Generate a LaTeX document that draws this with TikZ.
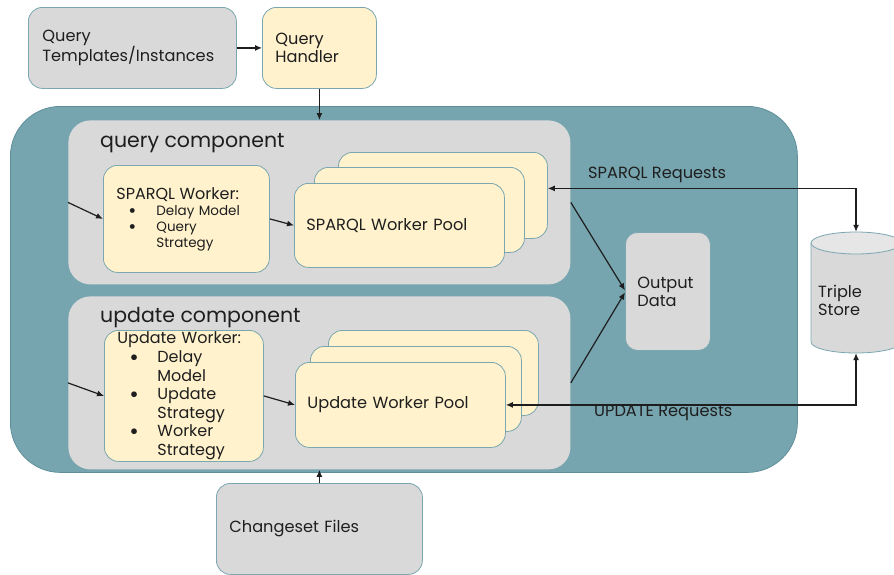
\documentclass[tikz,border=0pt]{standalone}
\usepackage{fontspec}
\setmainfont{Poppins}
\usetikzlibrary{arrows.meta}
\setlength{\parindent}{0pt}
\definecolor{tealbg}{HTML}{76A5AF}
\definecolor{tealline}{HTML}{5F8F9A}
\definecolor{boxline}{HTML}{7BA7B1}
\definecolor{boxgray}{HTML}{D9D9D9}
\definecolor{boxyel}{HTML}{FFF2CC}
\definecolor{cyltop}{HTML}{E6E6E6}
\definecolor{txtc}{HTML}{1E1E1E}
\newcommand{\wbul}{\hspace*{12pt}\makebox[28pt][l]{\raisebox{-0.3ex}{\scalebox{1.45}{\textbullet}}}}
\newcommand{\wcon}{\hspace*{40pt}}
\tikzset{
  box/.style={draw=boxline, line width=0.8pt, rounded corners=14pt, anchor=north west, inner ysep=0pt, text=txtc},
  graybox/.style={box, fill=boxgray},
  yelbox/.style={box, fill=boxyel},
  comp/.style={graybox, rounded corners=22pt, draw=none},
  arr/.style={-{Latex[length=7pt,width=6pt]}, line width=1.2pt, draw=txtc},
  dblarr/.style={{Latex[length=7pt,width=6pt]}-{Latex[length=7pt,width=6pt]}, line width=1.2pt, draw=txtc},
  lbl/.style={anchor=west, inner sep=0pt, text=txtc},
  title/.style={lbl, font=\fontsize{20.5}{24}\selectfont},
}
\begin{document}
\begin{tikzpicture}[x=1pt, y=-1pt, font=\fontsize{16.2}{18}\selectfont]
    \useasboundingbox (0,0) rectangle (894,574);
    \clip (0,0) rectangle (894,574);
    % top row
    \node[graybox, minimum width=205pt, minimum height=81pt, text width=180pt, inner xsep=14pt, align=left] (qt) at (28,7) {Query\\Templates/Instances};
    \node[yelbox, minimum width=114pt, minimum height=81pt, text width=88pt, inner xsep=13pt, align=left] (qh) at (262,7) {Query\\Handler};
    % main area
    \node[box, fill=tealbg, draw=tealline, rounded corners=50pt, minimum width=787pt, minimum height=366pt] (main) at (10,106) {};
    \node[comp, minimum width=502pt, minimum height=164pt] (qcomp) at (68,120) {};
    \node[title] (qtitle) at (100,143) {query component};
    \node[comp, minimum width=502pt, minimum height=173pt] (ucomp) at (68,296) {};
    \node[title] (utitle) at (100,318) {update component};
    % workers
    \node[yelbox, minimum width=166pt, minimum height=107pt, text width=140pt, inner xsep=13pt, align=left, font=\fontsize{13.5}{16}\selectfont] (sw) at (103,165)
        {{\fontsize{16}{17}\selectfont SPARQL Worker:}\\ \wbul Delay Model\\ \wbul Query\\ \wcon Strategy};
    \node[yelbox, minimum width=159pt, minimum height=131pt, text width=133pt, inner xsep=13pt, align=left, font=\fontsize{16}{18.6}\selectfont] (uw) at (104,330)
        {Update Worker:\\ \wbul Delay\\ \wcon Model\\ \wbul Update\\ \wcon Strategy\\ \wbul Worker\\ \wcon Strategy};
    % worker pools
    \node[yelbox, minimum width=209pt, minimum height=86pt] (spoolc) at (338,152) {};
    \node[yelbox, minimum width=210pt, minimum height=85pt] (spoolb) at (314,167) {};
    \node[yelbox, minimum width=210pt, minimum height=84pt, text width=186pt, inner xsep=12pt, align=left] (spoola) at (294,183) {SPARQL Worker Pool};
    \node[yelbox, minimum width=210pt, minimum height=85pt] (upoolc) at (328,330) {};
    \node[yelbox, minimum width=211pt, minimum height=85pt] (upoolb) at (310,346) {};
    \node[yelbox, minimum width=210pt, minimum height=85pt, text width=186pt, inner xsep=12pt, align=left] (upoola) at (295,362) {Update Worker Pool};
    % output and store
    \node[graybox, rounded corners=12pt, minimum width=85pt, minimum height=118pt, text width=61pt, inner xsep=12pt, align=left] (od) at (625,232) {Output\\Data};
    \node[minimum width=90pt, minimum height=121pt, inner sep=0pt] (ts) at (856,292.5) {};
    \filldraw[fill=boxgray, draw=boxline, line width=0.8pt] (811,243) -- (811,342) arc[start angle=180, end angle=0, x radius=45, y radius=11] -- (901,243);
    \filldraw[fill=cyltop, draw=boxline, line width=0.8pt] (856,243) ellipse [x radius=45, y radius=11];
    \node[lbl, align=left] (tslabel) at (818,300) {Triple\\Store};
    \node[graybox, minimum width=206pt, minimum height=91pt, text width=180pt, inner xsep=13pt, align=left] (cs) at (216,483) {Changeset Files};
    % connectors
    \draw[arr] (qt.east) -- (qh.west);
    \draw[arr] (qh.south) -- (qh.south |- qcomp.north);
    \draw[arr] (cs.north) -- (cs.north |- ucomp.south);
    \draw[arr] (qcomp.west) -- (sw.west);
    \draw[arr] (ucomp.west) -- (uw.west);
    \draw[arr] (sw.east) -- (spoola.west);
    \draw[arr] (uw.east) -- (upoola.west);
    \draw[arr] (qcomp.east) -- ([yshift=1pt]od.west);
    \draw[arr] (ucomp.east) -- ([yshift=-1pt]od.west);
    \draw[dblarr] ([yshift=7pt]spoolc.east) -| (ts.north);
    \draw[dblarr] (upoola.east) -| (ts.south);
    \node[lbl] (sparqlreq) at (588,175) {SPARQL Requests};
    \node[lbl] (updatereq) at (594,413) {UPDATE Requests};
\end{tikzpicture}
\end{document}
